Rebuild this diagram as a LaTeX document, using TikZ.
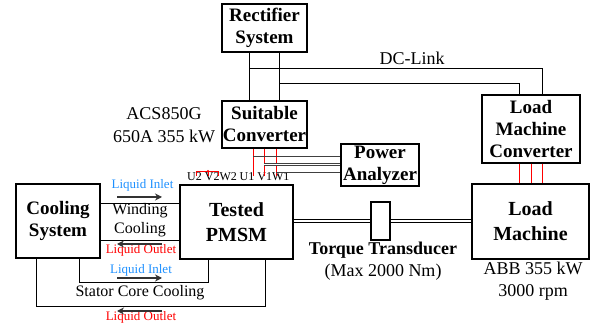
\documentclass[tikz,border=0pt]{standalone}
\usepackage{fontspec}
\setmainfont{LiberationSerif}[Extension=.ttf, UprightFont=*-Regular, BoldFont=*-Bold, ItalicFont=*-Italic, BoldItalicFont=*-BoldItalic]
\usetikzlibrary{arrows.meta}

\definecolor{inletblue}{RGB}{30,144,255}
\definecolor{outletred}{RGB}{255,0,0}

\tikzset{
  blk/.style={draw, line width=1.1pt, align=center, inner sep=0pt,
    font=\fontsize{19}{22}\selectfont\bfseries},
  bigblk/.style={blk, font=\fontsize{20}{25}\selectfont\bfseries},
  lbl/.style={anchor=base, inner sep=0pt, font=\fontsize{18}{22}\selectfont},
  midlbl/.style={anchor=base, inner sep=0pt, font=\fontsize{16}{19}\selectfont},
  smalllbl/.style={anchor=base, inner sep=0pt, font=\fontsize{13}{15}\selectfont},
  tinylbl/.style={anchor=base, inner sep=0pt, font=\fontsize{12}{14}\selectfont},
  wire/.style={line width=0.9pt},
  phase/.style={draw=outletred, line width=0.9pt},
  pawire/.style={draw=black!75, line width=1pt},
  flow/.style={-{Stealth[length=7pt,width=7pt]}, line width=1.3pt, draw=black!80},
}

\begin{document}
\begin{tikzpicture}[x=1pt,y=-1pt]
        \useasboundingbox (0,0) rectangle (594,328);
        % blocks
        \node[blk, minimum width=85pt, minimum height=48pt] (rect) at (264.5,28) {Rectifier\\System};
        \node[blk, minimum width=85pt, minimum height=47pt] (conv) at (264.5,124.5) {Suitable\\Converter};
        \node[blk, minimum width=98pt, minimum height=68pt] (lmc) at (531,129) {Load\\Machine\\Converter};
        \node[blk, minimum width=78pt, minimum height=42pt] (pa) at (380,165) {Power\\Analyzer};
        \node[bigblk, minimum width=113pt, minimum height=74pt] (pmsm) at (236.5,222) {Tested\\PMSM};
        \node[blk, minimum width=84pt, minimum height=74pt] (cool) at (58,221) {Cooling\\System};
        \node[bigblk, minimum width=117pt, minimum height=75pt] (lm) at (530.5,221.5) {Load\\Machine};
        \node[draw, line width=1.1pt, minimum width=19pt, minimum height=38pt] (tt) at (380.5,221) {};
        % labels
        \node[lbl] (acs1) at (164,120) {ACS850G};
        \node[lbl] (acs2) at (164,143) {650A 355 kW};
        \node[lbl] (dclink) at (412,65) {DC-Link};
        \node[lbl, font=\fontsize{18}{22}\selectfont\bfseries] (ttname) at (383,255) {Torque Transducer};
        \node[lbl] (ttmax) at (383,277) {(Max 2000 Nm)};
        \node[lbl] (abb1) at (533,275) {ABB 355 kW};
        \node[lbl] (abb2) at (533,297) {3000 rpm};
        \node[tinylbl] (uvw2) at (212,181) {U2 V2W2};
        \node[tinylbl] (uvw1) at (264.5,181) {U1 V1W1};
        \node[smalllbl, text=inletblue] (win) at (142.5,189) {Liquid Inlet};
        \node[midlbl] (wnd1) at (140,215) {Winding};
        \node[midlbl] (wnd2) at (140,234) {Cooling};
        \node[smalllbl, text=outletred] (wout) at (141,254) {Liquid Outlet};
        \node[smalllbl, text=inletblue] (sin) at (141,274) {Liquid Inlet};
        \node[midlbl] (stator) at (140,297) {Stator Core Cooling};
        \node[smalllbl, text=outletred] (sout) at (141,321) {Liquid Outlet};
        % DC link
        \draw[wire] ([xshift=-15.5pt]rect.south) -- ([xshift=-15.5pt]conv.north);
        \draw[wire] ([xshift=14.5pt]rect.south) -- ([xshift=14.5pt]conv.north);
        \draw[wire] (249,68) -| ([xshift=11pt]lmc.north);
        \draw[wire] (279,83.5) -| ([xshift=-12pt]lmc.north);
        % phases
        \foreach \px in {253,264,276} {
          \draw[phase] (conv.south -| \px,0) -- (\px,176);
        }
        \foreach \px in {519,531,542} {
          \draw[phase] (lmc.south -| \px,0) -- (lm.north -| \px,0);
        }
        \draw[phase] (196,176) |- (218,171) -- (218,176);
        \draw[phase] (208,171) -- (208,176);
        \fill[outletred] (208,171) circle (1.2pt);
        % power analyzer
        \draw[pawire] (253,157) -- (pa.west |- 0,157);
        \draw[pawire, double, double distance=1.2pt, line width=0.8pt] (264,164.5) -- (pa.west |- 0,164.5);
        \draw[pawire] (276,173) -- (pa.west |- 0,173);
        % shaft
        \draw[double, double distance=2.5pt, line width=0.9pt] (pmsm.east |- tt.west) -- (tt.west);
        \draw[double, double distance=2.5pt, line width=0.9pt] (tt.east) -- (tt.east -| lm.west);
        % cooling
        \draw[wire] (cool.east |- 0,203) -- (pmsm.west |- 0,203);
        \draw[wire] (cool.east |- 0,240) -- (pmsm.west |- 0,240);
        \draw[wire] (cool.south -| 79,0) -- (79,282) -| (pmsm.south -| 208,0);
        \draw[wire] (cool.south -| 36,0) -- (36,306) -| (pmsm.south -| 265,0);
        \draw[flow] (117,197) -- (162,197);
        \draw[flow] (162,244) -- (117,244);
        \draw[flow] (117,278) -- (162,278);
        \draw[flow] (162,311) -- (117,311);
\end{tikzpicture}
\end{document}
